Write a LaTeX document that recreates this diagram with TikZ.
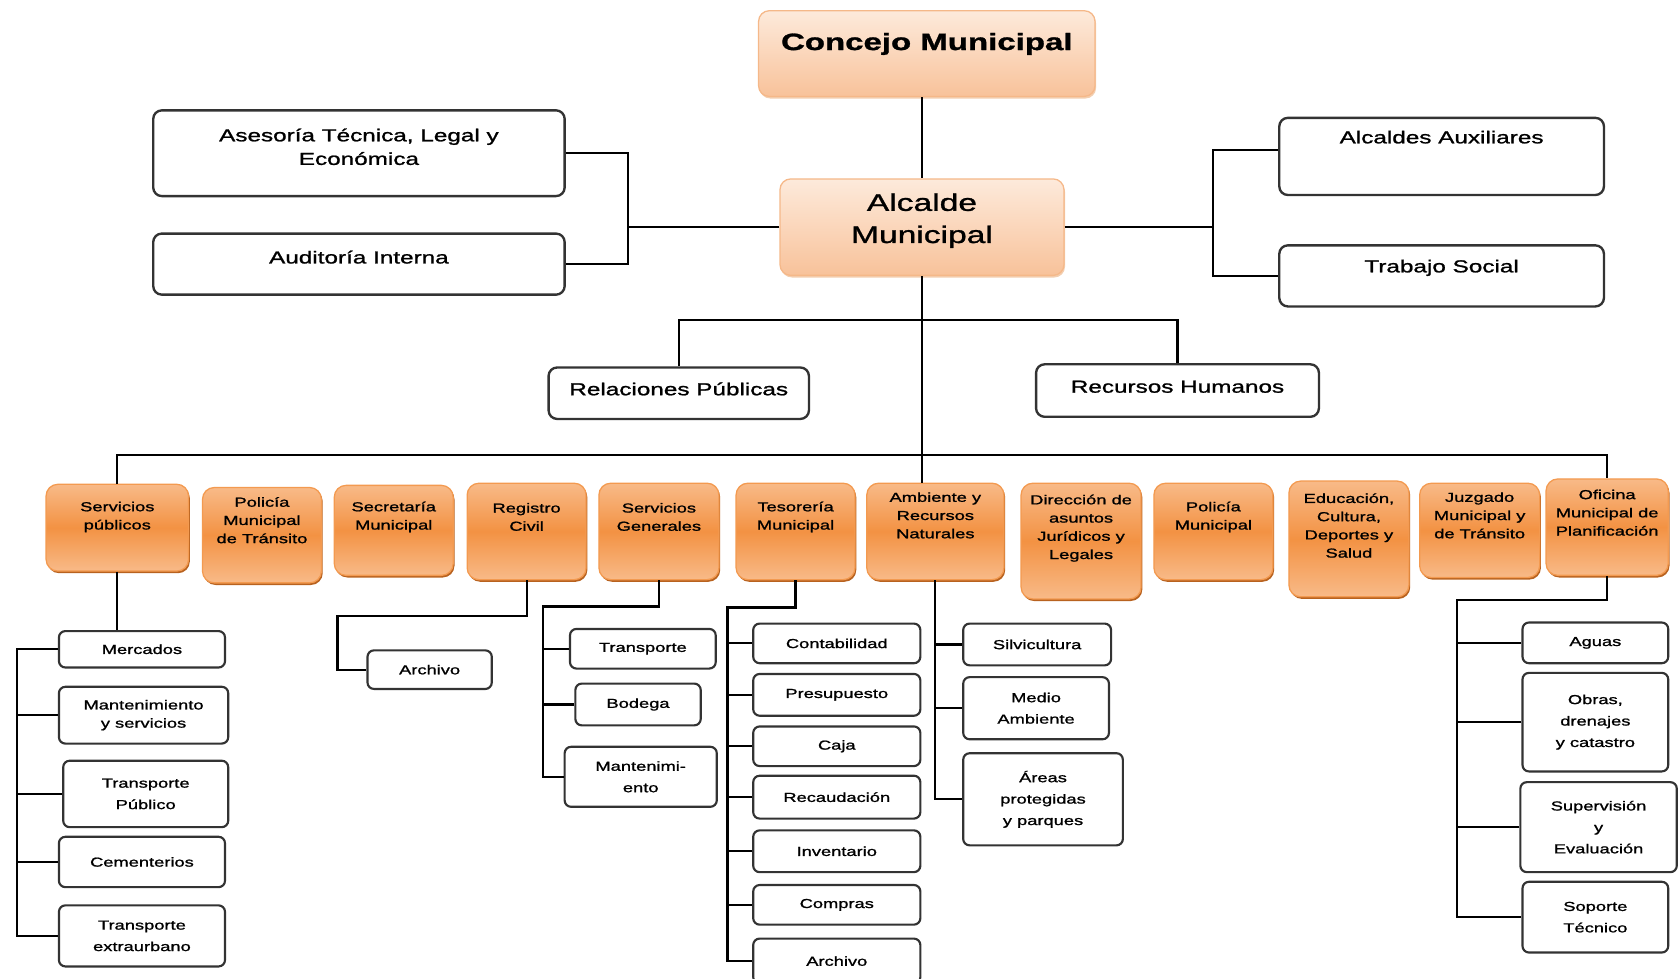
\documentclass[tikz,border=0pt]{standalone}
\usepackage{fontspec}
\setmainfont{Liberation Sans}[FakeStretch=1.4, FakeBold=1.2]
\usetikzlibrary{shadows}
\definecolor{oLight}{HTML}{F8BA88}
\definecolor{oMid}{HTML}{F39243}
\definecolor{oEdge}{HTML}{F39A50}
\definecolor{oDark}{HTML}{B8621F}
\definecolor{pLight}{HTML}{FDEADB}
\definecolor{pDark}{HTML}{F8C29A}
\definecolor{pEdge}{HTML}{F5B889}
\tikzset{
  conn/.style={
    draw,
    line width=2pt,
  },
  topbox/.style={
    draw=pEdge,
    line width=1.2pt,
    rounded corners=10pt,
    inner sep=0pt,
    top color=pLight,
    bottom color=pDark,
    drop shadow={shadow xshift=1pt, shadow yshift=-2pt, fill=pEdge!80!brown, opacity=.6},
  },
  wbox/.style={
    draw=black!80,
    line width=2.2pt,
    rounded corners=8pt,
    inner sep=0pt,
    fill=white,
  },
  sbox/.style={
    draw=black!80,
    line width=2pt,
    rounded corners=6pt,
    inner sep=0pt,
    fill=white,
    align=center,
    font=\fontsize{12.2}{20}\selectfont,
  },
  obox/.style={
    draw=oEdge,
    line width=1.2pt,
    rounded corners=11pt,
    inner sep=0pt,
    top color=oLight,
    bottom color=oLight,
    middle color=oMid,
    drop shadow={shadow xshift=1.2pt, shadow yshift=-2pt, fill=oDark, opacity=1},
  },
  otxt/.style={
    align=center,
    font=\fontsize{12.2}{17}\selectfont,
  },
  wtxt/.style={
    align=center,
    font=\fontsize{16.2}{22}\selectfont,
  },
}
\begin{document}
\begin{tikzpicture}[x=1pt, y=-1pt]
  \useasboundingbox (0,0) rectangle (1568,913);

  % council, mayor and advisers
  \node[topbox, minimum width=314pt, minimum height=80pt,
    label={[font=\fontsize{22}{26}\selectfont\bfseries, yshift=9pt]center:Concejo Municipal}] (con) at (865,50) {};
  \node[topbox, minimum width=265pt, minimum height=90pt,
    label={[align=center, font=\fontsize{22.4}{30}\selectfont, yshift=6pt]center:Alcalde\\Municipal}] (alc) at (860.5,212) {};
  \node[wbox, minimum width=384pt, minimum height=80pt,
    label={[wtxt, yshift=6pt]center:{Asesoría Técnica, Legal y\\Económica}}] (ase) at (335,143) {};
  \node[wbox, minimum width=384pt, minimum height=57pt,
    label={[wtxt, yshift=6.5pt]center:Auditoría Interna}] (aud) at (335,246.5) {};
  \node[wbox, minimum width=303pt, minimum height=72pt,
    label={[wtxt, yshift=18pt]center:Alcaldes Auxiliares}] (aux) at (1345.5,146) {};
  \node[wbox, minimum width=303pt, minimum height=57pt,
    label={[wtxt, yshift=7.5pt]center:Trabajo Social}] (tso) at (1345.5,257.5) {};
  \node[wbox, minimum width=243pt, minimum height=48pt,
    label={[wtxt, yshift=4pt]center:Relaciones Públicas}] (rel) at (633.5,367) {};
  \node[wbox, minimum width=264pt, minimum height=49pt,
    label={[wtxt, yshift=3.5pt]center:Recursos Humanos}] (rec) at (1099,364.5) {};

  % departments
  \node[obox, minimum width=133pt, minimum height=81pt,
    label={[otxt, yshift=10pt]center:Servicios\\públicos}] (spub) at (109.5,492.5) {};
  \node[obox, minimum width=111pt, minimum height=89pt,
    label={[otxt, yshift=14pt]center:Policía\\Municipal\\de Tránsito}] (ptra) at (244.5,499.5) {};
  \node[obox, minimum width=111pt, minimum height=84pt,
    label={[otxt, yshift=12.5pt]center:Secretaría\\Municipal}] (secr) at (367.5,495) {};
  \node[obox, minimum width=111pt, minimum height=90pt,
    label={[otxt, yshift=13.5pt]center:Registro\\Civil}] (regc) at (491.5,496) {};
  \node[obox, minimum width=112pt, minimum height=90pt,
    label={[otxt, yshift=13.5pt]center:Servicios\\Generales}] (sgen) at (615,496) {};
  \node[obox, minimum width=111pt, minimum height=90pt,
    label={[otxt, yshift=13.5pt]center:Tesorería\\Municipal}] (teso) at (742.5,496) {};
  \node[obox, minimum width=128pt, minimum height=90pt,
    label={[otxt, yshift=15pt]center:Ambiente y\\Recursos\\Naturales}] (ambi) at (873,496) {};
  \node[obox, minimum width=112pt, minimum height=108pt,
    label={[otxt, yshift=12pt]center:Dirección de\\asuntos\\Jurídicos y\\Legales}] (djur) at (1009,505) {};
  \node[obox, minimum width=111pt, minimum height=90pt,
    label={[otxt, yshift=13.5pt]center:Policía\\Municipal}] (pmun) at (1132.5,496) {};
  \node[obox, minimum width=112pt, minimum height=108pt,
    label={[otxt, yshift=12.5pt]center:{Educación,\\Cultura,\\Deportes y\\Salud}}] (educ) at (1259,503) {};
  \node[obox, minimum width=112pt, minimum height=88pt,
    label={[otxt, yshift=14pt]center:Juzgado\\Municipal y\\de Tránsito}] (juzg) at (1381,495) {};
  \node[obox, minimum width=114pt, minimum height=90pt,
    label={[otxt, yshift=13.5pt]center:Oficina\\Municipal de\\Planificación}] (ofpl) at (1500,492) {};

  % units of Servicios publicos
  \node[sbox, minimum width=155pt, minimum height=34pt] (merc) at (132.5,606) {Mercados};
  \node[sbox, minimum width=158pt, minimum height=53pt] (mant) at (134,667.5) {Mantenimiento\\[-3pt]y servicios};
  \node[sbox, minimum width=154pt, minimum height=62pt] (tpub) at (136,741) {Transporte\\Público};
  \node[sbox, minimum width=155pt, minimum height=47pt] (ceme) at (132.5,804.5) {Cementerios};
  \node[sbox, minimum width=155pt, minimum height=57pt] (txur) at (132.5,873.5) {Transporte\\extraurbano};

  % units of Registro Civil and Servicios Generales
  \node[sbox, minimum width=116pt, minimum height=36pt] (arc1) at (401,625) {Archivo};
  \node[sbox, minimum width=136pt, minimum height=37pt] (tran) at (600,605.5) {Transporte};
  \node[sbox, minimum width=117pt, minimum height=39pt] (bode) at (595.5,657.5) {Bodega};
  \node[sbox, minimum width=142pt, minimum height=56pt] (mtto) at (598,725) {Mantenimi-\\ento};

  % units of Tesoreria
  \node[sbox, minimum width=156pt, minimum height=37pt] (cont) at (781,600.5) {Contabilidad};
  \node[sbox, minimum width=156pt, minimum height=39pt] (pres) at (781,648.5) {Presupuesto};
  \node[sbox, minimum width=156pt, minimum height=37pt] (caja) at (781,696.5) {Caja};
  \node[sbox, minimum width=156pt, minimum height=40pt] (reca) at (781,744) {Recaudación};
  \node[sbox, minimum width=156pt, minimum height=39pt] (inve) at (781,794.5) {Inventario};
  \node[sbox, minimum width=156pt, minimum height=37pt] (comp) at (781,844.5) {Compras};
  \node[sbox, minimum width=156pt, minimum height=42pt] (arc2) at (781,897) {Archivo};

  % units of Ambiente
  \node[sbox, minimum width=138pt, minimum height=39pt] (silv) at (968,601.5) {Silvicultura};
  \node[sbox, minimum width=136pt, minimum height=58pt] (medi) at (967,661) {Medio\\Ambiente};
  \node[sbox, minimum width=149pt, minimum height=86pt] (area) at (973.5,746) {Áreas\\protegidas\\y parques};

  % units of Planificacion
  \node[sbox, minimum width=136pt, minimum height=38pt] (agua) at (1489,600) {Aguas};
  \node[sbox, minimum width=136pt, minimum height=92pt] (obra) at (1489,674) {Obras,\\drenajes\\y catastro};
  \node[sbox, minimum width=146pt, minimum height=84pt] (supe) at (1492,772) {Supervisión\\y\\Evaluación};
  \node[sbox, minimum width=136pt, minimum height=66pt] (sopo) at (1489,856) {Soporte\\Técnico};

  % connectors
  \coordinate (bar) at (860.5,425);
  \coordinate (mid) at (860.5,299);
  \coordinate (lj) at (586,210);
  \coordinate (rj) at (1132,212);
  \draw[conn] (alc.north |- con.south) -- (alc.north);
  \draw[conn] (alc.south) -- (alc.south |- ambi.north);
  \draw[conn] (ase.east) -| (lj) |- (aud.east);
  \draw[conn] (alc.west) -- (alc.west -| lj);
  \draw[conn] ([yshift=6pt]aux.west) -| (rj) |- (tso.west);
  \draw[conn] (alc.east) -- (rj);
  \draw[conn] (rel.north) |- (mid) -| (rec.north);
  \draw[conn] (spub.north) |- (bar) -| (ofpl.north);

  \coordinate (sr) at (16,606);
  \draw[conn] (spub.south) -- (spub.south |- merc.north);
  \draw[conn] (merc.west) -| (sr) |- (txur.west);
  \foreach \n in {mant,tpub,ceme}
    \draw[conn] (\n.west) -- (\n.west -| sr);

  \coordinate (rg) at (315,575);
  \draw[conn] (regc.south) |- (rg) |- (arc1.west);

  \coordinate (sg) at (507,566);
  \draw[conn] (sgen.south) |- (sg) |- (mtto.west);
  \foreach \n in {tran,bode}
    \draw[conn] (\n.west) -- (\n.west -| sg);

  \coordinate (ts) at (679,567);
  \draw[conn] (teso.south) |- (ts) |- (arc2.west);
  \foreach \n in {cont,pres,caja,reca,inve,comp}
    \draw[conn] (\n.west) -- (\n.west -| ts);

  \draw[conn] (ambi.south) |- (area.west);
  \foreach \n in {silv,medi}
    \draw[conn] (\n.west) -- (\n.west -| ambi.south);

  \coordinate (op) at (1360,560);
  \draw[conn] (ofpl.south) |- (op) |- (sopo.west);
  \foreach \n in {agua,obra,supe}
    \draw[conn] (\n.west) -- (\n.west -| op);
\end{tikzpicture}
\end{document}
